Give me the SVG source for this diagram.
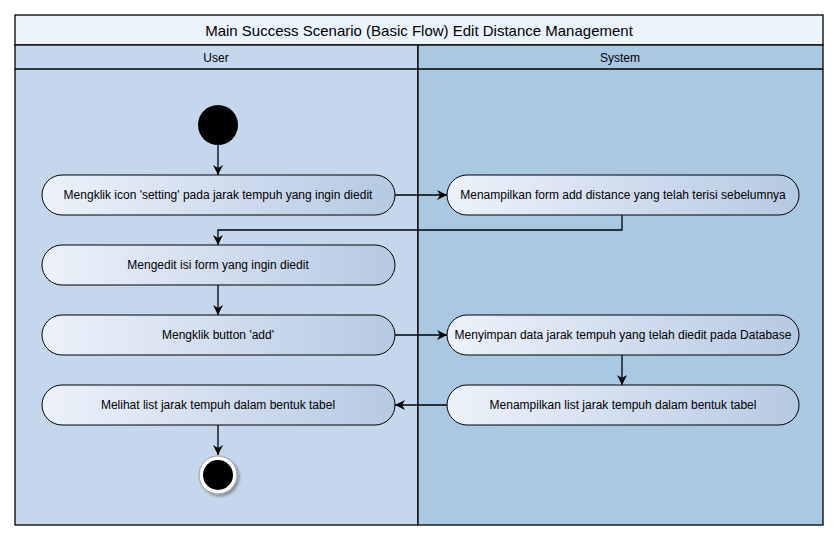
<svg xmlns="http://www.w3.org/2000/svg" width="838" height="541" viewBox="0 0 838 541">
<style>
.frame{stroke:#000;stroke-width:1.3}
.node rect{stroke:#000;stroke-width:1;fill:url(#ng)}
.node text,.lbl{font-family:"Liberation Sans",Arial,sans-serif;font-size:12px;fill:#000;text-anchor:middle}
.title{font-family:"Liberation Sans",Arial,sans-serif;font-size:15px;fill:#000;text-anchor:middle}
.conn path{fill:none;stroke:#000;stroke-width:1.3}
</style>
<defs>
<linearGradient id="ng" x1="0" y1="0" x2="1" y2="0">
<stop offset="0" stop-color="#EDF2FA"/>
<stop offset="1" stop-color="#B6C9E3"/>
</linearGradient>
<marker id="ah" viewBox="0 0 10 10" refX="10" refY="5" markerWidth="10" markerHeight="10" markerUnits="userSpaceOnUse" orient="auto">
<path d="M0,0 L10,5 L0,10 L3,5 Z" fill="#000"/>
</marker>
<filter id="sh" x="-50%" y="-50%" width="200%" height="200%">
<feGaussianBlur in="SourceAlpha" stdDeviation="1.5"/>
<feOffset dx="1.5" dy="1.5" result="b"/>
<feComponentTransfer><feFuncA type="linear" slope="0.35"/></feComponentTransfer>
<feMerge><feMergeNode/><feMergeNode in="SourceGraphic"/></feMerge>
</filter>
</defs>
<rect width="838" height="541" fill="#fff"/>
<g id="swimlanes">
<rect x="15" y="15" width="808" height="30" fill="#EBF3FD" class="frame"/>
<rect x="15" y="45" width="403" height="480" fill="#C4D7EC" class="frame"/>
<rect x="418" y="45" width="405" height="480" fill="#A9C8E2" class="frame"/>
<line x1="15" y1="69" x2="823" y2="69" class="frame"/>
<text x="419" y="36" class="title">Main Success Scenario (Basic Flow) Edit Distance Management</text>
<text x="216" y="62" class="lbl">User</text>
<text x="620" y="62" class="lbl">System</text>
</g>
<g id="start"><circle cx="218" cy="125" r="20" fill="#000"/></g>
<g id="end" filter="url(#sh)"><circle cx="218" cy="475" r="19" fill="#fff" stroke="#999" stroke-width="1"/><circle cx="218" cy="475" r="15" fill="#000"/></g>
<g id="n1" class="node"><rect x="42" y="175" width="353" height="40" rx="20"/><text x="218" y="199">Mengklik icon 'setting' pada jarak tempuh yang ingin diedit</text></g>
<g id="n2" class="node"><rect x="447" y="175" width="352" height="40" rx="20"/><text x="623" y="199">Menampilkan form add distance yang telah terisi sebelumnya</text></g>
<g id="n3" class="node"><rect x="42" y="245" width="353" height="40" rx="20"/><text x="218" y="269">Mengedit isi form yang ingin diedit</text></g>
<g id="n4" class="node"><rect x="42" y="315" width="353" height="40" rx="20"/><text x="218" y="339">Mengklik button 'add'</text></g>
<g id="n5" class="node"><rect x="447" y="315" width="352" height="40" rx="20"/><text x="623" y="339">Menyimpan data jarak tempuh yang telah diedit pada Database</text></g>
<g id="n6" class="node"><rect x="447" y="385" width="352" height="40" rx="20"/><text x="623" y="409">Menampilkan list jarak tempuh dalam bentuk tabel</text></g>
<g id="n7" class="node"><rect x="42" y="385" width="353" height="40" rx="20"/><text x="218" y="409">Melihat list jarak tempuh dalam bentuk tabel</text></g>
<g id="connectors" class="conn">
<path d="M218,145 V175" marker-end="url(#ah)"/>
<path d="M395,195 H447" marker-end="url(#ah)"/>
<path d="M622,215 V230 H218 V245" marker-end="url(#ah)"/>
<path d="M218,285 V315" marker-end="url(#ah)"/>
<path d="M395,335 H447" marker-end="url(#ah)"/>
<path d="M622,355 V385" marker-end="url(#ah)"/>
<path d="M447,405 H395" marker-end="url(#ah)"/>
<path d="M218,425 V455" marker-end="url(#ah)"/>
</g>
</svg>
